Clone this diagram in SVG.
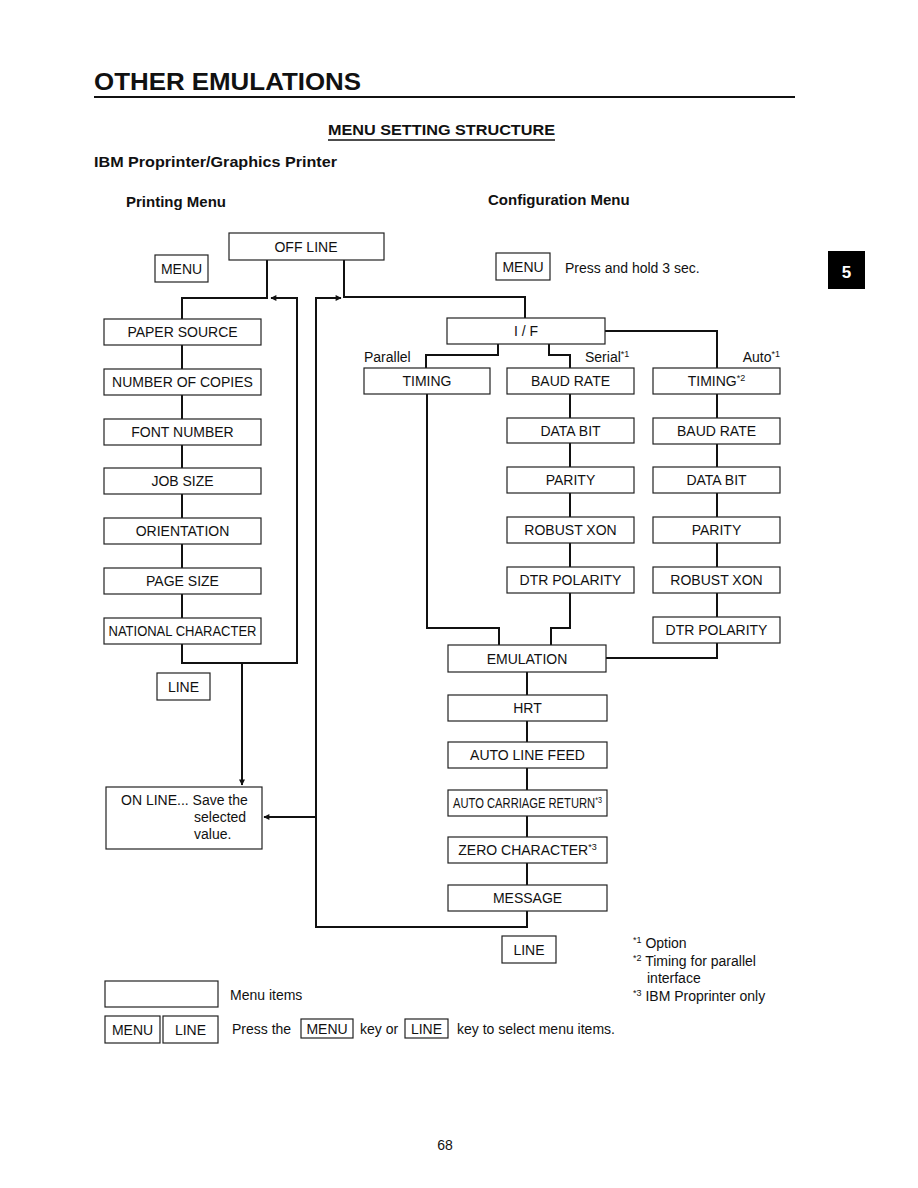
<svg xmlns="http://www.w3.org/2000/svg" width="918" height="1188" viewBox="0 0 918 1188">
<defs>
<style>
text{font-family:"Liberation Sans",Arial,sans-serif;fill:#111}
.h{font-weight:bold}
.b rect{fill:#fff;stroke:#222;stroke-width:1.2}
.b text{font-size:14px;text-anchor:middle}
.c{fill:none;stroke:#111;stroke-width:2}
.t{font-size:14px}
.s{font-size:9px}
</style>
<marker id="ah" viewBox="0 0 10 10" refX="9" refY="5" markerWidth="8" markerHeight="6" orient="auto" markerUnits="userSpaceOnUse"><path d="M0,0L10,5L0,10z" fill="#111"/></marker>
</defs>
<rect width="918" height="1188" fill="#fff"/>
<text x="94" y="90" class="h" font-size="24" textLength="267" lengthAdjust="spacingAndGlyphs">OTHER EMULATIONS</text>
<line x1="94" y1="97" x2="795" y2="97" stroke="#111" stroke-width="2"/>
<text x="328" y="135" class="h" font-size="15" textLength="227" lengthAdjust="spacingAndGlyphs">MENU SETTING STRUCTURE</text>
<line x1="328" y1="140" x2="555" y2="140" stroke="#111" stroke-width="1.3"/>
<text x="94" y="167" class="h" font-size="15" textLength="243" lengthAdjust="spacingAndGlyphs">IBM Proprinter/Graphics Printer</text>
<text x="126" y="207" class="h" font-size="15">Printing Menu</text>
<text x="488" y="205" class="h" font-size="15">Configuration Menu</text>
<g id="tab5"><rect x="828" y="251" width="37" height="38" fill="#000"/><text x="846.5" y="278" class="h" font-size="17" text-anchor="middle" style="fill:#fff">5</text></g>

<g id="connectors">
<path class="c" d="M267,260V298H182V319"/>
<path class="c" d="M182,345V369M182,395V419M182,445V468M182,494V518M182,544V568M182,594V618"/>
<path class="c" d="M182,644V663H297V298H271" marker-end="url(#ah)"/>
<path class="c" d="M242,663V785" marker-end="url(#ah)"/>
<path class="c" d="M344,260V297H525V318"/>
<path class="c" d="M527,911V927H316V298H341" marker-end="url(#ah)"/>
<path class="c" d="M316,817H264" marker-end="url(#ah)"/>
<path class="c" d="M605,331H717V368"/>
<path class="c" d="M498,344V355H426V368"/>
<path class="c" d="M549,344V355H570V368"/>
<path class="c" d="M570,394V418M570,443V467M570,493V517M570,543V567"/>
<path class="c" d="M570,593V628H551V645"/>
<path class="c" d="M427,394V628H499V645"/>
<path class="c" d="M717,394V418M717,444V467M717,493V517M717,543V567M717,593V617"/>
<path class="c" d="M717,643V658H606"/>
<path class="c" d="M527,672V695M527,721V742M527,768V790M527,816V837M527,863V885"/>
</g>

<g id="offline" class="b"><rect x="229" y="233" width="155" height="27"/><text x="306" y="252">OFF LINE</text></g>
<g id="menu1" class="b"><rect x="155" y="255" width="53" height="27"/><text x="181.5" y="274">MENU</text></g>
<g id="menu2" class="b"><rect x="496" y="253" width="54" height="27"/><text x="523" y="272">MENU</text></g>
<text x="565" y="273" class="t">Press and hold 3 sec.</text>

<g id="paper" class="b"><rect x="104" y="319" width="157" height="26"/><text x="182.5" y="337">PAPER SOURCE</text></g>
<g id="copies" class="b"><rect x="104" y="369" width="157" height="26"/><text x="182.5" y="387">NUMBER OF COPIES</text></g>
<g id="font" class="b"><rect x="104" y="419" width="157" height="26"/><text x="182.5" y="437">FONT NUMBER</text></g>
<g id="job" class="b"><rect x="104" y="468" width="157" height="26"/><text x="182.5" y="486">JOB SIZE</text></g>
<g id="orient" class="b"><rect x="104" y="518" width="157" height="26"/><text x="182.5" y="536">ORIENTATION</text></g>
<g id="page" class="b"><rect x="104" y="568" width="157" height="26"/><text x="182.5" y="586">PAGE SIZE</text></g>
<g id="national" class="b"><rect x="104" y="618" width="157" height="26"/><text x="182.5" y="636" textLength="148" lengthAdjust="spacingAndGlyphs">NATIONAL CHARACTER</text></g>
<g id="line1" class="b"><rect x="157" y="673" width="53" height="27"/><text x="183.5" y="692">LINE</text></g>
<g id="online"><rect x="106" y="787" width="156" height="62" fill="#fff" stroke="#222" stroke-width="1.2"/>
<text x="121" y="805" class="t">ON LINE... Save the</text><text x="194" y="822" class="t">selected</text><text x="194" y="839" class="t">value.</text></g>

<g id="if" class="b"><rect x="447" y="318" width="158" height="26"/><text x="526" y="336">I / F</text></g>
<text x="364" y="362" class="t">Parallel</text>
<text x="585" y="362" class="t">Serial<tspan class="s" dy="-5">*1</tspan></text>
<text x="780" y="362" class="t" text-anchor="end">Auto<tspan class="s" dy="-5">*1</tspan></text>

<g id="timingP" class="b"><rect x="364" y="368" width="126" height="26"/><text x="427" y="386">TIMING</text></g>
<g id="baudS" class="b"><rect x="507" y="368" width="127" height="26"/><text x="570.5" y="386">BAUD RATE</text></g>
<g id="dataS" class="b"><rect x="507" y="418" width="127" height="25"/><text x="570.5" y="436">DATA BIT</text></g>
<g id="parityS" class="b"><rect x="507" y="467" width="127" height="26"/><text x="570.5" y="485">PARITY</text></g>
<g id="robustS" class="b"><rect x="507" y="517" width="127" height="26"/><text x="570.5" y="535">ROBUST XON</text></g>
<g id="dtrS" class="b"><rect x="507" y="567" width="127" height="26"/><text x="570.5" y="585">DTR POLARITY</text></g>

<g id="timingA" class="b"><rect x="653" y="368" width="127" height="26"/><text x="716.5" y="386">TIMING<tspan class="s" dy="-5">*2</tspan></text></g>
<g id="baudA" class="b"><rect x="653" y="418" width="127" height="26"/><text x="716.5" y="436">BAUD RATE</text></g>
<g id="dataA" class="b"><rect x="653" y="467" width="127" height="26"/><text x="716.5" y="485">DATA BIT</text></g>
<g id="parityA" class="b"><rect x="653" y="517" width="127" height="26"/><text x="716.5" y="535">PARITY</text></g>
<g id="robustA" class="b"><rect x="653" y="567" width="127" height="26"/><text x="716.5" y="585">ROBUST XON</text></g>
<g id="dtrA" class="b"><rect x="653" y="617" width="127" height="26"/><text x="716.5" y="635">DTR POLARITY</text></g>

<g id="emulation" class="b"><rect x="448" y="645" width="158" height="27"/><text x="527" y="664">EMULATION</text></g>
<g id="hrt" class="b"><rect x="448" y="695" width="159" height="26"/><text x="527.5" y="713">HRT</text></g>
<g id="alf" class="b"><rect x="448" y="742" width="159" height="26"/><text x="527.5" y="760">AUTO LINE FEED</text></g>
<g id="acr" class="b"><rect x="448" y="790" width="159" height="26"/><text transform="translate(527.5,808) scale(0.8,1)" x="0" y="0">AUTO CARRIAGE RETURN<tspan class="s" dy="-5">*3</tspan></text></g>
<g id="zero" class="b"><rect x="448" y="837" width="159" height="26"/><text x="527.5" y="855">ZERO CHARACTER<tspan class="s" dy="-5">*3</tspan></text></g>
<g id="message" class="b"><rect x="448" y="885" width="159" height="26"/><text x="527.5" y="903">MESSAGE</text></g>
<g id="line2" class="b"><rect x="502" y="936" width="54" height="27"/><text x="529" y="955">LINE</text></g>

<g id="notes">
<text x="633" y="948" class="t"><tspan class="s" dy="-5">*1</tspan><tspan dy="5"> Option</tspan></text>
<text x="633" y="966" class="t"><tspan class="s" dy="-5">*2</tspan><tspan dy="5"> Timing for parallel</tspan></text>
<text x="647" y="983" class="t">interface</text>
<text x="633" y="1001" class="t"><tspan class="s" dy="-5">*3</tspan><tspan dy="5"> IBM Proprinter only</tspan></text>
</g>

<g id="legend">
<rect x="105" y="981" width="113" height="26" fill="#fff" stroke="#222" stroke-width="1.2"/>
<text x="230" y="1000" class="t">Menu items</text>
<g class="b"><rect x="105" y="1016" width="55" height="27"/><text x="132.5" y="1035">MENU</text></g>
<g class="b"><rect x="163" y="1016" width="55" height="27"/><text x="190.5" y="1035">LINE</text></g>
<text x="232" y="1034" class="t">Press the</text>
<g class="b"><rect x="301" y="1019" width="52" height="19"/><text x="327" y="1034">MENU</text></g>
<text x="360" y="1034" class="t">key or</text>
<g class="b"><rect x="405" y="1019" width="43" height="19"/><text x="426.5" y="1034">LINE</text></g>
<text x="457" y="1034" class="t">key to select menu items.</text>
</g>
<text x="445" y="1150" class="t" text-anchor="middle" font-size="15">68</text>
</svg>
